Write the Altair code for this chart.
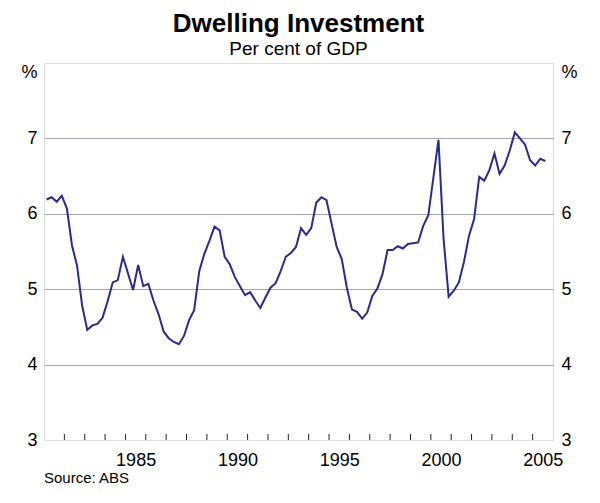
import altair as alt
import pandas as pd

# Dwelling investment, per cent of GDP, quarterly from 1981 Q1
start_year = 1981
values = [
    6.19, 6.22, 6.16, 6.24,   # 1981
    6.07, 5.58, 5.31, 4.78,   # 1982
    4.46, 4.52, 4.54, 4.62,   # 1983
    4.84, 5.09, 5.12, 5.43,   # 1984
    5.21, 4.99, 5.32, 5.04,   # 1985
    5.07, 4.85, 4.67, 4.44,   # 1986
    4.35, 4.30, 4.27, 4.38,   # 1987
    4.59, 4.72, 5.24, 5.47,   # 1988
    5.64, 5.83, 5.78, 5.43,   # 1989
    5.33, 5.16, 5.04, 4.92,   # 1990
    4.96, 4.85, 4.75, 4.89,   # 1991
    5.02, 5.08, 5.24, 5.43,   # 1992
    5.48, 5.56, 5.81, 5.72,   # 1993
    5.81, 6.15, 6.22, 6.18,   # 1994
    5.87, 5.56, 5.40, 5.02,   # 1995
    4.73, 4.70, 4.61, 4.69,   # 1996
    4.91, 5.01, 5.20, 5.52,   # 1997
    5.52, 5.57, 5.54, 5.60,   # 1998
    5.61, 5.62, 5.84, 5.98,   # 1999
    6.48, 6.98, 5.67, 4.90,   # 2000
    4.98, 5.09, 5.36, 5.71,   # 2001
    5.93, 6.49, 6.44, 6.58,   # 2002
    6.80, 6.53, 6.64, 6.84,   # 2003
    7.08, 7.00, 6.92, 6.71,   # 2004
    6.64, 6.73, 6.70,         # 2005
]
tick_years = list(range(1982, 2006))
label_years = [1985, 1990, 1995, 2000, 2005]
y_ticks = [3, 4, 5, 6, 7, 8]
source_text = ["Source: ABS"]

# quarter mid-points in decimal years
t = [start_year + 0.125 + 0.25 * i for i in range(len(values))]
df = pd.DataFrame({"t": t, "v": values})
ticks_df = pd.DataFrame({"yr": tick_years})
src_df = pd.DataFrame({"s": source_text})

W, H = 509, 377
FONT = "Liberation Sans"
LINE = "#2b2b8c"
GRID = "#a3a6b4"

xscale = alt.Scale(domain=[1981, 2006], nice=False, zero=False)
yscale = alt.Scale(domain=[3, 8], nice=False, zero=False)

grid_color = {"condition": {"test": "datum.value == 3 || datum.value == 8", "value": "transparent"},
              "value": GRID}
pct_baseline = {"condition": {"test": "datum.value == 8", "value": "top"}, "value": "middle"}

line = alt.Chart(df).mark_line(color=LINE, strokeWidth=2).encode(
    x=alt.X("t:Q", scale=xscale,
            axis=alt.Axis(values=[y + 0.5 for y in label_years], labelExpr="floor(datum.value)",
                          ticks=False, domain=False, grid=False, labelPadding=11,
                          labelFontSize=18, labelFont=FONT, labelColor="black", title=None)),
    y=alt.Y("v:Q", scale=yscale,
            axis=alt.Axis(values=y_ticks, labelExpr="datum.value == 8 ? '%' : datum.label",
                          grid=True, gridColor=grid_color, gridWidth=1, ticks=False, domain=False,
                          labelPadding=7, labelFontSize=18, labelFont=FONT, labelColor="black",
                          labelBaseline=pct_baseline, title=None)),
)

right = alt.Chart(df).mark_line(strokeOpacity=0).encode(
    x=alt.X("t:Q", scale=xscale),
    y=alt.Y("v:Q", scale=yscale,
            axis=alt.Axis(orient="right", values=y_ticks,
                          labelExpr="datum.value == 8 ? '%' : datum.label",
                          grid=False, ticks=False, domain=False, labelPadding=8,
                          labelFontSize=18, labelFont=FONT, labelColor="black",
                          labelBaseline=pct_baseline, title=None)),
)

ticks = alt.Chart(ticks_df).mark_rule(color="#222222", strokeWidth=1).encode(
    x=alt.X("yr:Q", scale=xscale),
    y=alt.value(H),
    y2=alt.value(H - 6),
)

source = alt.Chart(src_df).mark_text(align="left", baseline="middle", fontSize=15,
                                     font=FONT, color="black").encode(
    text="s:N",
    x=alt.value(0),
    y=alt.value(H + 38),
)

chart = alt.layer(line, right, ticks, source).resolve_scale(y="independent").properties(
    width=W, height=H,
    title=alt.TitleParams(text="Dwelling Investment", subtitle="Per cent of GDP",
                          fontSize=26, fontWeight="bold", font=FONT, color="black",
                          subtitleFontSize=19, subtitleFont=FONT, subtitleColor="black",
                          anchor="middle", offset=4, subtitlePadding=3),
    autosize=alt.AutoSizeParams(type="none"),
    padding={"left": 36, "top": 55, "right": 39, "bottom": 47},
).configure_view(stroke="#222222", strokeWidth=1.2).configure(background="white")

chart.save("out.html", embed_options={"renderer": "svg", "actions": False})
